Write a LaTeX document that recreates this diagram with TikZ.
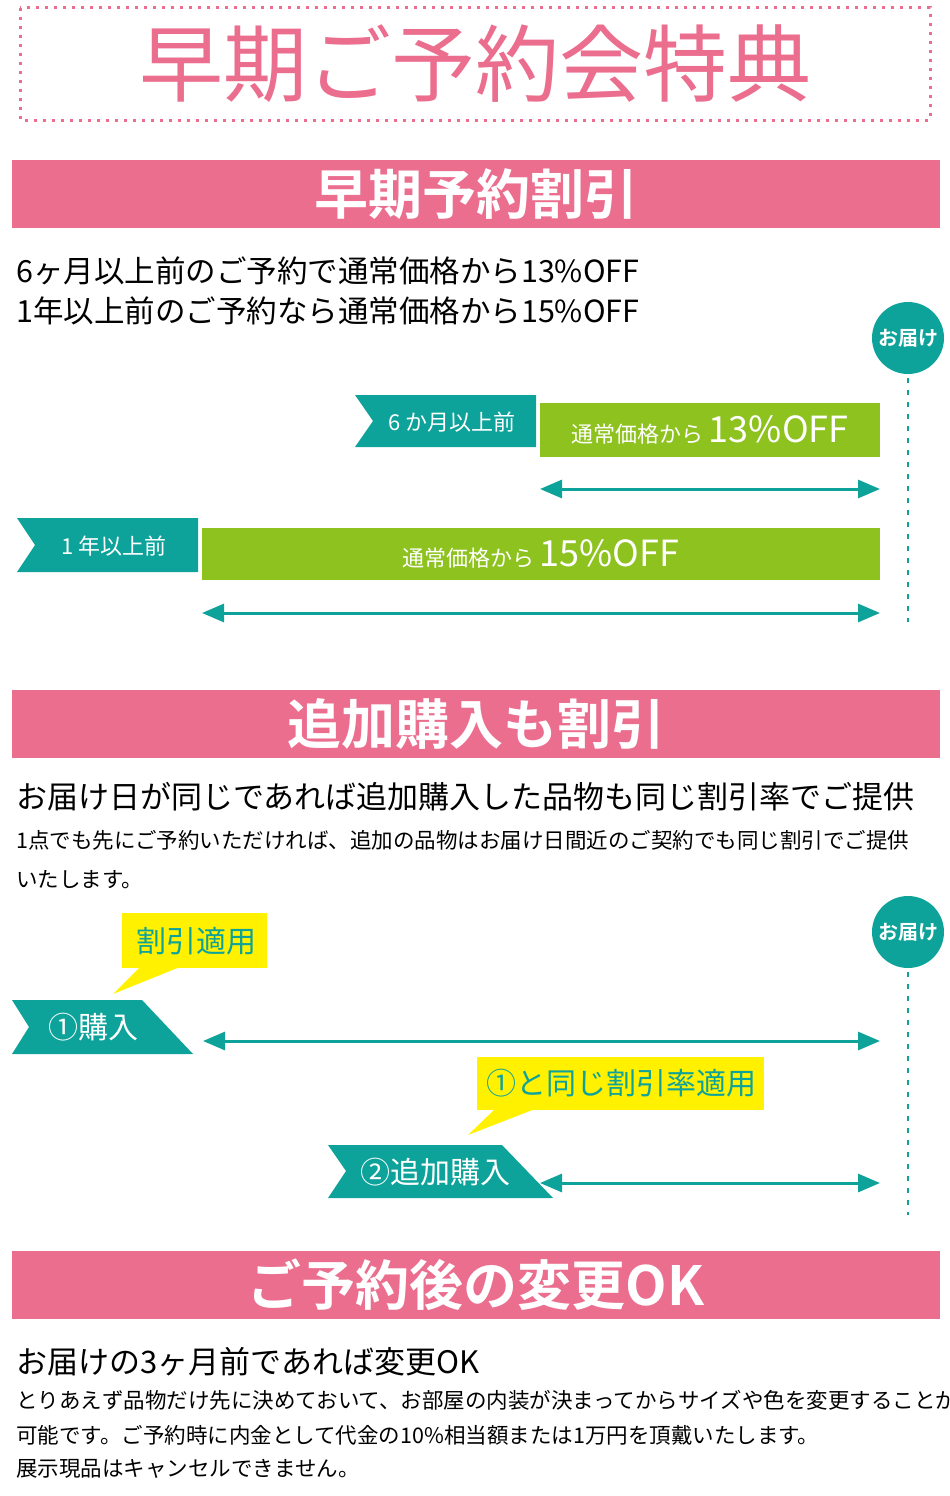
\documentclass[tikz,border=0pt]{standalone}
\usepackage{fontspec}
\setmainfont{Noto Sans CJK JP}[BoldFont={* Bold}]
\usetikzlibrary{arrows.meta}
\definecolor{rosa}{RGB}{235,110,143}
\definecolor{teal}{RGB}{14,163,154}
\definecolor{lime}{RGB}{141,194,31}
\definecolor{lemon}{RGB}{255,241,0}
\newcommand\fs[1]{\fontsize{#1}{#1}\selectfont}
\tikzset{
  band/.style={fill=rosa, minimum width=928, minimum height=68, text=white, font=\fs{54}\bfseries, inner sep=0},
  bar/.style={fill=lime, text=white, inner sep=0, anchor=north west},
  span/.style={draw=teal, line width=3, {Triangle[width=18,length=22]}-{Triangle[width=18,length=22]}},
  goal/.style={circle, fill=teal, minimum size=72, text=white, font=\fs{20}\bfseries, inner sep=0},
  track/.style={draw=teal, line width=2.5, dash pattern=on 5 off 7},
  body/.style={anchor=west, inner sep=0},
  callout/.style={fill=lemon},
}
\begin{document}
\begin{tikzpicture}[x=1pt,y=-1pt]
	\useasboundingbox (0,0) rectangle (950,1496);

	% heading
	\draw[rosa, line width=3, dash pattern=on 3 off 6] (20,8) rectangle (930,120);
	\node[text=rosa, font=\fs{84}] (title) at (475,64) {早期ご予約会特典};

	% section 1
	\node[band] (band1) at (476,194) {早期予約割引};
	\node[body, font=\fs{30.5}] (line1) at (16,271) {6ヶ月以上前のご予約で通常価格から13\%OFF};
	\node[body, font=\fs{30.5}] (line2) at (16,311) {1年以上前のご予約なら通常価格から15\%OFF};

	\node[goal] (goal1) at (908,338) {お届け};
	\coordinate (end1) at (908,622);
	\draw[track] (goal1.south) ++(0,4) -- (end1);

	\fill[teal] (355,395) -- (536,395) -- (536,447) -- (355,447) -- (373,421) -- cycle;
	\node[text=white, font=\fs{22}] (six) at (452,422) {6 か月以上前};
	\node[bar, minimum width=340, minimum height=54] (off13) at (540,403) {{\fs{22}通常価格から }{\fs{36}13\%OFF}};
	\coordinate (a1) at (540,489);
	\coordinate (b1) at (880,489);
	\draw[span] (a1) -- (b1);

	\fill[teal] (17,518) -- (198,518) -- (198,572) -- (17,572) -- (35,545) -- cycle;
	\node[text=white, font=\fs{22}] (one) at (114,546) {1 年以上前};
	\node[bar, minimum width=678, minimum height=52] (off15) at (202,528) {{\fs{22}通常価格から }{\fs{36}15\%OFF}};
	\coordinate (a2) at (202,613);
	\coordinate (b2) at (880,613);
	\draw[span] (a2) -- (b2);

	% section 2
	\node[band] (band2) at (476,724) {追加購入も割引};
	\node[body, font=\fs{31}] (line3) at (16,797) {お届け日が同じであれば追加購入した品物も同じ割引率でご提供};
	\node[body, font=\fs{21.5}] (line4) at (16,840) {1点でも先にご予約いただければ、追加の品物はお届け日間近のご契約でも同じ割引でご提供};
	\node[body, font=\fs{21.5}] (line5) at (16,880) {いたします。};

	\node[goal] (goal2) at (908,932) {お届け};
	\coordinate (end2) at (908,1215);
	\draw[track] (goal2.south) ++(0,4) -- (end2);

	\fill[callout] (122,913) rectangle (267,968);
	\fill[callout] (140,967) -- (180,967) -- (113,994) -- cycle;
	\node[text=teal, font=\fs{30}] (tip1) at (196,941) {割引適用};

	\fill[teal] (12,1000) -- (142,1000) -- (193,1054) -- (12,1054) -- (29,1027) -- cycle;
	\node[text=white, font=\fs{30}] (buy1) at (93,1027) {①購入};
	\coordinate (a3) at (203,1041);
	\coordinate (b3) at (880,1041);
	\draw[span] (a3) -- (b3);

	\fill[callout] (477,1057) rectangle (764,1110);
	\fill[callout] (495,1109) -- (535,1109) -- (468,1135) -- cycle;
	\node[text=teal, font=\fs{30}] (tip2) at (621,1083) {①と同じ割引率適用};

	\fill[teal] (328,1145) -- (502,1145) -- (553,1198) -- (328,1198) -- (346,1171) -- cycle;
	\node[text=white, font=\fs{30}] (buy2) at (435,1172) {②追加購入};
	\coordinate (a4) at (540,1183);
	\coordinate (b4) at (880,1183);
	\draw[span] (a4) -- (b4);

	% section 3
	\node[band] (band3) at (476,1285) {ご予約後の変更OK};
	\node[body, font=\fs{31}] (line6) at (16,1362) {お届けの3ヶ月前であれば変更OK};
	\node[body, font=\fs{21.5}] (line7) at (16,1400) {とりあえず品物だけ先に決めておいて、お部屋の内装が決まってからサイズや色を変更することが};
	\node[body, font=\fs{21.5}] (line8) at (16,1435) {可能です。ご予約時に内金として代金の10\%相当額または1万円を頂戴いたします。};
	\node[body, font=\fs{21.5}] (line9) at (16,1469) {展示現品はキャンセルできません。};
\end{tikzpicture}
\end{document}
